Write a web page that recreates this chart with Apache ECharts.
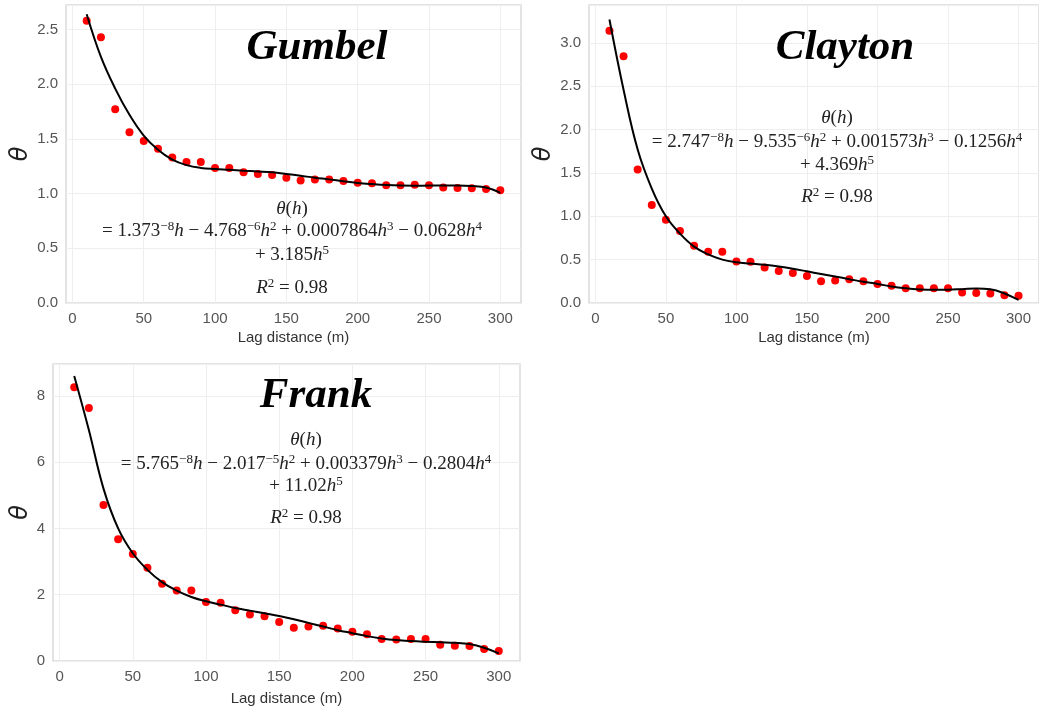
<!DOCTYPE html>
<html><head><meta charset="utf-8">
<script src="https://cdn.jsdelivr.net/npm/echarts@6/dist/echarts.min.js"></script>
<style>html,body{margin:0;padding:0;background:#fff}#c{width:1039px;height:713px}</style>
</head><body><div id="c"></div>
<script>
// ---- data ----
const lagDistance = [10,20,30,40,50,60,70,80,90,100,110,120,130,140,150,160,170,180,190,200,210,220,230,240,250,260,270,280,290,300];

const gumbelObserved = [2.58,2.43,1.77,1.56,1.48,1.41,1.33,1.29,1.29,1.235,1.235,1.195,1.18,1.17,1.146,1.12,1.128,1.128,1.116,1.10,1.095,1.076,1.076,1.082,1.076,1.055,1.052,1.049,1.043,1.03];
const gumbelFit = [2.64,2.25,1.96,1.72,1.53,1.40,1.31,1.26,1.235,1.225,1.218,1.21,1.203,1.195,1.18,1.163,1.145,1.13,1.113,1.098,1.087,1.078,1.073,1.072,1.073,1.075,1.075,1.07,1.055,1.006];

const claytonObserved = [3.14,2.845,1.54,1.13,0.96,0.83,0.66,0.59,0.59,0.48,0.475,0.41,0.37,0.345,0.31,0.25,0.26,0.275,0.25,0.22,0.20,0.17,0.17,0.17,0.17,0.12,0.115,0.11,0.09,0.085];
const claytonFit = [3.27,2.46,1.77,1.32,1.00,0.80,0.65,0.56,0.50,0.47,0.455,0.44,0.42,0.395,0.365,0.335,0.305,0.275,0.245,0.22,0.19,0.17,0.157,0.152,0.153,0.16,0.168,0.158,0.11,0.035];

const frankObserved = [8.26,7.63,4.71,3.67,3.23,2.81,2.33,2.13,2.13,1.78,1.76,1.53,1.40,1.35,1.18,1.00,1.04,1.06,0.98,0.88,0.81,0.66,0.65,0.66,0.66,0.49,0.46,0.45,0.36,0.30];
const frankFit = [8.6,6.97,5.2,4.0,3.25,2.75,2.38,2.12,1.93,1.8,1.7,1.6,1.52,1.44,1.36,1.26,1.15,1.04,0.93,0.84,0.75,0.68,0.63,0.60,0.58,0.565,0.55,0.51,0.40,0.23];

const xTickValues = [0,50,100,150,200,250,300];
const panelNames = ['Gumbel','Clayton','Frank'];
const equationLine2 = [
  ['1.373','−8','4.768','−6','0.0007864','0.0628'],
  ['2.747','−8','9.535','−6','0.001573','0.1256'],
  ['5.765','−8','2.017','−5','0.003379','0.2804']
];
const equationLine3 = ['3.185','4.369','11.02'];
const rSquared = ['0.98','0.98','0.98'];

// ---- layout ----
const grids = [
  {left:66, top:5, width:455, height:298},
  {left:589, top:5, width:455, height:298},
  {left:53, top:364, width:467, height:297}
];
const yMax = [2.724, 3.437, 8.96];
const yInterval = [0.5, 0.5, 2];
const yNameGap = [32, 32, 19];
const titlePos = [[317,48],[845,48],[316,396]];
const eqPos = [[292,[209,231,255,288]],[837,[118,142,165,197]],[306,[440,464,486,518]]];

const observed = [gumbelObserved, claytonObserved, frankObserved];
const fits = [gumbelFit, claytonFit, frankFit];

const tickFont = {color:'#555', fontSize:15, fontFamily:'Liberation Sans, Arial, sans-serif'};
const xAxes = [], yAxes = [], series = [], graphics = [];
const rich = {
  n:{fontFamily:'Liberation Serif', fontSize:19, lineHeight:22, fill:'#222', color:'#222'},
  i:{fontFamily:'Liberation Serif', fontStyle:'italic', fontSize:19, lineHeight:22, fill:'#222', color:'#222'},
  s:{fontFamily:'Liberation Serif', fontSize:13, lineHeight:13, verticalAlign:'top', fill:'#222', color:'#222'}
};

for (let k = 0; k < 3; k++) {
  xAxes.push({
    gridIndex:k, type:'value', min:-4.5, max:314.5,
    name:'Lag distance (m)', nameLocation:'middle', nameGap: k===2 ? 30 : 27,
    nameTextStyle:{color:'#333', fontSize:15, fontFamily:'Liberation Sans, Arial, sans-serif'},
    axisLine:{show:false}, axisTick:{show:false, customValues:xTickValues},
    axisLabel:Object.assign({customValues:xTickValues, margin:8}, tickFont),
    splitLine:{show:true, lineStyle:{color:'#eeeeee', width:1}}
  });
  yAxes.push({
    gridIndex:k, type:'value', min:0, max:yMax[k], interval:yInterval[k],
    name:'θ', nameLocation:'middle', nameGap:yNameGap[k], nameRotate:90,
    nameTextStyle:{color:'#222', fontSize:24, fontStyle:'italic', fontFamily:'DejaVu Sans'},
    axisLine:{show:false}, axisTick:{show:false},
    axisLabel:Object.assign({margin:8, showMaxLabel:false,
      formatter: v => (yInterval[k] < 1 ? v.toFixed(1) : String(v))}, tickFont),
    splitLine:{show:true, lineStyle:{color:'#eeeeee', width:1}}
  });
  series.push({
    type:'scatter', xAxisIndex:k, yAxisIndex:k, symbolSize:8,
    itemStyle:{color:'#ff0000', opacity:1}, z:2,
    data: lagDistance.map((x,i) => [x, observed[k][i]])
  });
  series.push({
    type:'line', xAxisIndex:k, yAxisIndex:k, showSymbol:false, smooth:0.4,
    lineStyle:{color:'#000', width:2}, z:3,
    data: lagDistance.map((x,i) => [x, fits[k][i]])
  });
  graphics.push({
    type:'text', x:titlePos[k][0], y:titlePos[k][1], z:10,
    style:{text:panelNames[k], align:'center', verticalAlign:'middle',
      fontFamily:'Liberation Serif', fontWeight:'bold', fontStyle:'italic', fontSize:43, fill:'#000'}
  });
  const e = equationLine2[k];
  const lines = [
    '{i|θ}{n|(}{i|h}{n|)}',
    '{n|= '+e[0]+'}{s|'+e[1]+'}{i|h}{n| − '+e[2]+'}{s|'+e[3]+'}{i|h}{s|2}{n| + '+e[4]+'}{i|h}{s|3}{n| − '+e[5]+'}{i|h}{s|4}',
    '{n|+ '+equationLine3[k]+'}{i|h}{s|5}',
    '{i|R}{s|2}{n| = '+rSquared[k]+'}'
  ];
  lines.forEach((t, j) => {
    graphics.push({
      type:'text', x:eqPos[k][0], y:eqPos[k][1][j], z:10,
      style:{text:t, rich:rich, align:'center', verticalAlign:'middle', fill:'#222'}
    });
  });
}

const chart = echarts.init(document.getElementById('c'), null, {renderer:'canvas'});
chart.setOption({
  backgroundColor:'#fff',
  animation:false,
  grid: grids.map(g => Object.assign({show:true, borderColor:'#dadada', borderWidth:1.5, backgroundColor:'#fff'}, g)),
  xAxis:xAxes, yAxis:yAxes, series:series, graphic:graphics
});
</script></body></html>
